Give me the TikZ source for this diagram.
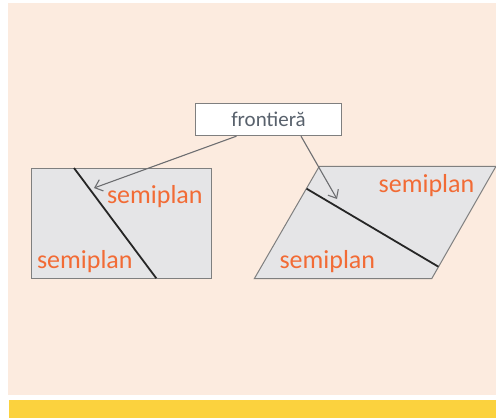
\documentclass[tikz,border=0pt]{standalone}
\usepackage{fontspec}
\setmainfont{Carlito}
\usepackage{tikz}
\usetikzlibrary{arrows.meta}
\usetikzlibrary{positioning}

\definecolor{peach}{HTML}{FCEBDF}
\definecolor{bandyellow}{HTML}{FBD23E}
\definecolor{planegray}{HTML}{E5E5E7}
\definecolor{edgegray}{HTML}{7F7F7F}
\definecolor{pointergray}{HTML}{6D6E71}
\definecolor{halforange}{HTML}{F26B35}
\definecolor{labeltext}{HTML}{58616C}

\begin{document}
\begin{tikzpicture}[x=1pt, y=-1pt,
  plane/.style = {draw=edgegray,fill=planegray,line width=1pt},
  border/.style = {line width=1.8pt,draw=black!85},
  half/.style = {text=halforange,font=\fontsize{26}{28}\selectfont,inner sep=0pt},
  tag/.style = {draw=edgegray,fill=white,line width=0.9pt,minimum width=146pt,
        minimum height=32pt,text=labeltext,font=\fontsize{21}{23}\selectfont},
  pointer/.style = {draw=pointergray,line width=1.1pt,
        -{Straight Barb[length=7pt,width=12pt]}}
]
 \useasboundingbox (0,0) rectangle (496,418);
 % page background and bottom band
 \fill[white] (0,0) rectangle (496,418);
 \fill[peach] (8,3) rectangle (496,395);
 \fill[bandyellow] (9,400) rectangle (496,418);

 % rectangle cut in two
 \draw[plane] (31.7,168) rectangle (211,278.3);
 \draw[border] (74,168) -- (156.3,278.3);
 \node[half] (upleft) at (154.8,197) {semiplan};
 \node[half] (lowleft) at (84.8,261.5) {semiplan};

 % parallelogram cut in two
 \draw[plane] (254.3,278.7) -- (319.3,166.3) -- (496,166.3) -- (431.7,278.7) -- cycle;
 \draw[border] (306.6,188.7) -- (438.4,266.7);
 \node[half] (upright) at (426.5,185.5) {semiplan};
 \node[half] (lowright) at (327.3,261.5) {semiplan};

 % label and its pointers
 \node[tag] (frontiera) at (268.5,119.7) {frontieră};
 \coordinate (tipleft) at (94,188);
 \coordinate (tipright) at (337,199);
 \draw[pointer] ([xshift=-32pt]frontiera.south) -- (tipleft);
 \draw[pointer] ([xshift=32.5pt]frontiera.south) -- (tipright);
\end{tikzpicture}
\end{document}
